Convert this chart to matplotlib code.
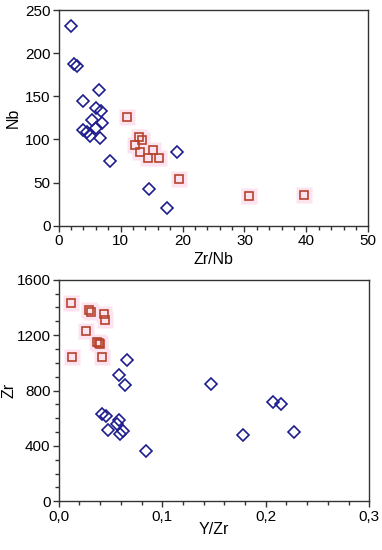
import numpy as np
import matplotlib
matplotlib.use("Agg")
import matplotlib.pyplot as plt
from matplotlib.ticker import MultipleLocator, FuncFormatter

plt.rcParams['font.family'] = ['Liberation Sans', 'DejaVu Sans']

# top panel: Zr/Nb vs Nb
top_dia_x = [2.0, 2.5, 2.9, 6.5, 4.0, 6.1, 6.8, 5.4, 7.0, 3.9, 4.5, 5.0, 6.1, 6.7, 8.3, 19.1, 14.6, 17.5]
top_dia_y = [232, 188, 185, 157, 145, 137, 133, 122, 119, 111, 109, 104, 113, 102, 75, 86, 42, 21]
top_sq_x = [11.0, 13.0, 13.5, 12.3, 13.2, 15.3, 14.4, 16.2, 19.4, 30.7, 39.6]
top_sq_y = [126, 103, 99, 93, 86, 88, 79, 79, 54, 34, 36]

# bottom panel: Y/Zr vs Zr
bot_dia_x = [0.066, 0.058, 0.064, 0.147, 0.207, 0.215, 0.227, 0.178, 0.084,
             0.042, 0.046, 0.058, 0.056, 0.048, 0.062, 0.059]
bot_dia_y = [1020, 915, 840, 845, 717, 700, 498, 479, 366,
             630, 616, 587, 556, 515, 510, 486]
bot_sq_x = [0.012, 0.029, 0.031, 0.044, 0.045, 0.026, 0.037, 0.039, 0.040, 0.013, 0.042]
bot_sq_y = [1435, 1380, 1365, 1355, 1310, 1230, 1150, 1140, 1135, 1045, 1045]

blue = '#1c1c8e'
red = '#b5432c'
halo = '#fde2ef'


def draw(ax, dx, dy, sx, sy):
    ax.plot(sx, sy, 's', ms=11, mfc=halo, mec='none', zorder=1)
    ax.plot(dx, dy, 'D', ms=6.3, mfc='none', mec=blue, mew=1.2, zorder=3)
    ax.plot(sx, sy, 's', ms=6.3, mfc='none', mec=red, mew=1.2, zorder=2)
    for s in ax.spines.values():
        s.set_linewidth(1.0)
        s.set_color('#333333')
    ax.tick_params(which='both', direction='out', top=False, right=False,
                   labelsize=11, color='#333333', pad=2)
    ax.tick_params(which='major', length=4, width=1)
    ax.tick_params(which='minor', length=3, width=1)


fig = plt.figure(figsize=(3.82, 5.5), dpi=100)

ax1 = fig.add_axes([0.1537, 0.5896, 0.8105, 0.3922])
draw(ax1, top_dia_x, top_dia_y, top_sq_x, top_sq_y)
ax1.set_xlim(0, 50)
ax1.set_ylim(0, 250)
ax1.xaxis.set_major_locator(MultipleLocator(10))
ax1.xaxis.set_minor_locator(MultipleLocator(2))
ax1.yaxis.set_major_locator(MultipleLocator(50))
ax1.set_xlabel('Zr/Nb', fontsize=11.5)
ax1.set_ylabel('Nb', fontsize=11.5)
ax1.xaxis.set_label_coords(0.5, -0.122)
ax1.yaxis.set_label_coords(-0.122, 0.5)

ax2 = fig.add_axes([0.1537, 0.0885, 0.813, 0.403])
draw(ax2, bot_dia_x, bot_dia_y, bot_sq_x, bot_sq_y)
ax2.set_xlim(0, 0.3)
ax2.set_ylim(0, 1600)
ax2.xaxis.set_major_locator(MultipleLocator(0.1))
ax2.xaxis.set_minor_locator(MultipleLocator(0.02))
ax2.yaxis.set_major_locator(MultipleLocator(400))
ax2.yaxis.set_minor_locator(MultipleLocator(100))
ax2.xaxis.set_major_formatter(FuncFormatter(lambda v, p: ('%.1f' % v).replace('.', ',')))
ax2.set_xlabel('Y/Zr', fontsize=11.5)
ax2.set_ylabel('Zr', fontsize=11.5)
ax2.xaxis.set_label_coords(0.5, -0.092)
ax2.yaxis.set_label_coords(-0.137, 0.5)

fig.savefig('out.png', dpi=100)
